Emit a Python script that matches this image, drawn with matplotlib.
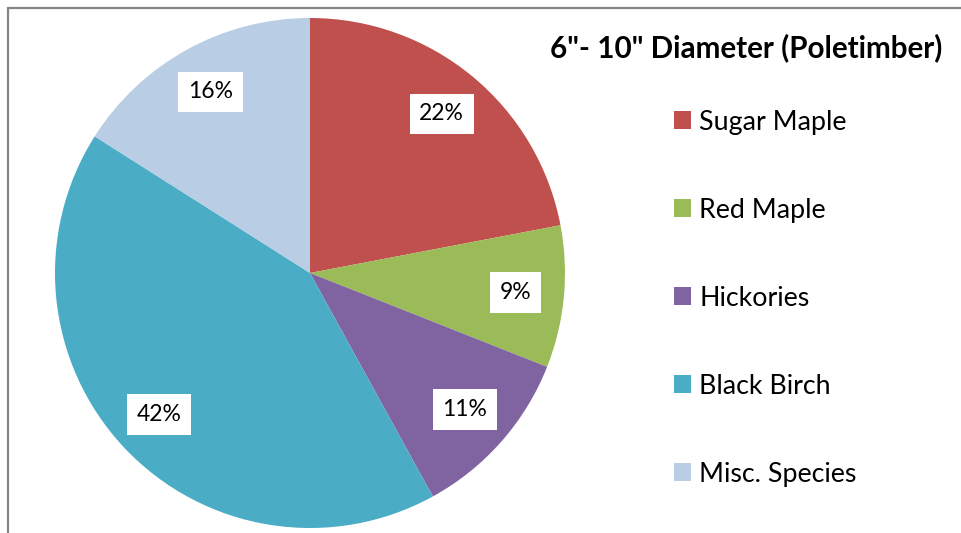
import matplotlib.pyplot as plt
from matplotlib.patches import Rectangle, Patch

species = ["Sugar Maple", "Red Maple", "Hickories", "Black Birch", "Misc. Species"]
shares = [22, 9, 11, 42, 16]
colors = ["#C0504D", "#9BBB59", "#8064A2", "#4BACC6", "#B9CDE5"]
title = "6\"- 10\" Diameter (Poletimber)"

plt.rcParams['font.family'] = ['Lato', 'DejaVu Sans']

W, H = 961, 533
fig = plt.figure(figsize=(W / 100, H / 100), dpi=100)

# chart frame (grey line on left/top)
fig.patches.append(Rectangle((8 / W, -0.1), 1.2, (H - 8) / H + 0.1, transform=fig.transFigure,
                             fill=False, edgecolor="#868686", linewidth=1.6))

cx, cy, r = 310, 273, 255
ax = fig.add_axes([(cx - r) / W, (H - cy - r) / H, 2 * r / W, 2 * r / H])
wedges, texts, autotexts = ax.pie(shares, colors=colors, startangle=90, counterclock=False,
                                  autopct="%d%%", pctdistance=0.81, radius=1,
                                  textprops=dict(fontsize=16.5, color="black"))
for t in autotexts:
    t.set_bbox(dict(facecolor="white", edgecolor="none", pad=7))
ax.set_xlim(-1, 1)
ax.set_ylim(-1, 1)

fig.text(746 / W, 1 - 48 / H, title, ha="center", va="center", fontsize=21.3, fontweight="bold")

handles = [Patch(facecolor=c, edgecolor="none") for c in colors]
fig.legend(handles, species, loc="upper left", bbox_to_anchor=(663 / W, 1 - 99 / H),
           frameon=False, fontsize=19.3, labelspacing=2.35, handlelength=0.65, handleheight=0.65,
           handletextpad=0.3, borderaxespad=0)

fig.savefig("out.png", dpi=100)
